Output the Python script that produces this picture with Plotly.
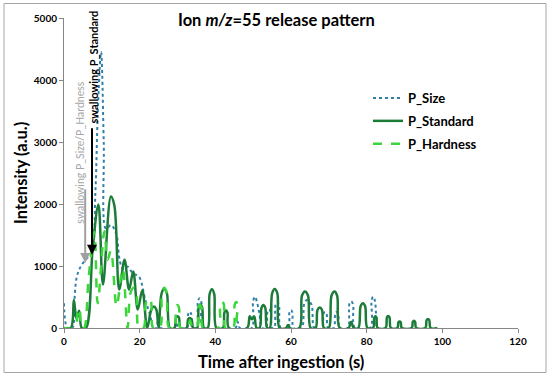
import plotly.graph_objects as go

# ---------------- data ----------------
t_size = [0, 0.9, 2.2, 2.7, 3.4, 4.5, 6.0, 7.3, 8.3, 9.0, 9.8, 10.5, 11.1, 12.4, 13.8, 14.7,
          15.6, 16.8, 18.2, 19.8, 21.5, 22.8, 23.6, 24.4, 24.9, 25.6, 29.5, 30.2, 31.0,
          32.5, 32.85, 33.2, 33.6, 34.0, 35.0, 35.4, 35.8, 36.3, 36.8, 45.3, 45.9, 46.5,
          49.6, 50.0, 50.5, 51.0, 51.6, 52.4, 53.4, 53.8, 54.2, 54.6, 55.0, 55.6, 55.9,
          56.3, 56.8, 57.3, 59.3, 59.6, 60.0, 60.35, 60.7, 62.8, 63.5, 64.2, 65.4, 66.2,
          68.2, 68.6, 69.0, 69.4, 69.8, 71.3, 71.7, 72.1, 72.5, 72.9, 75.0, 75.4, 75.9,
          76.4, 76.9, 80.9, 81.3, 81.7, 82.15, 82.6]
v_size = [400, 0, 0, 400, 830, 1000, 1120, 1200, 2200, 3600, 4450, 3000, 1600, 1660, 1520, 1100,
          950, 990, 880, 830, 450, 200, 0, 0, 180, 0, 0, 100, 0,
          0, 230, 265, 230, 0, 0, 420, 480, 420, 0, 0, 100, 0,
          0, 440, 505, 420, 250, 0, 0, 265, 300, 265, 0, 0, 370,
          420, 370, 0, 0, 255, 290, 255, 0, 0, 390, 450, 380, 0,
          0, 230, 260, 230, 0, 0, 230, 260, 230, 0, 0, 380, 430,
          380, 0, 0, 445, 505, 445, 0]

t_standard = [0, 1.8, 2.6, 3.3, 4.0, 4.7, 5.8, 7.6, 9.1, 10.3, 12.4, 13.3, 14.6, 16.0, 17.2,
              18.3, 19.5, 20.7, 22.0, 23.1, 23.8, 24.4, 25.0, 25.8, 26.5, 27.2, 28.0, 29.2,
              29.6, 30.0, 30.4, 30.8, 32.4, 32.8, 33.2, 33.7, 34.2, 35.2, 35.6, 36.0, 36.5,
              37.0, 38.0, 38.5, 39.1, 39.7, 40.3, 42.0, 42.4, 42.8, 43.2, 43.6, 48.4, 49.1,
              49.7, 50.3, 50.9, 51.7, 52.2, 52.7, 53.2, 53.7, 54.4, 55.0, 55.7, 56.4, 57.0,
              58.7, 59.2, 59.7, 62.2, 62.9, 63.7, 64.5, 65.2, 66.5, 67.0, 67.6, 68.2, 68.7,
              70.0, 70.7, 71.5, 72.2, 72.9, 75.2, 75.9, 76.6, 77.8, 78.4, 79.0, 79.6, 80.2,
              81.7, 82.0, 82.3, 82.6, 82.9, 85.0, 85.35, 85.7, 86.05, 86.4, 88.1, 88.4, 88.7,
              89.0, 89.3, 91.9, 92.2, 92.5, 92.8, 93.1, 95.5, 95.85, 96.2, 96.55, 96.9, 98.7]
v_standard = [0, 0, 450, 150, 280, 0, 0, 1300, 1990, 700, 2120, 1980, 620, 1100, 620,
              910, 300, 610, 0, 300, 345, 300, 0, 560, 635, 560, 0, 0,
              165, 190, 165, 0, 0, 140, 160, 140, 0, 0, 335, 380, 335,
              0, 0, 550, 625, 550, 0, 0, 250, 285, 250, 0, 0, 190,
              140, 185, 0, 0, 325, 370, 325, 0, 0, 555, 630, 555, 0,
              0, 50, 0, 0, 520, 590, 520, 0, 0, 290, 330, 290, 0,
              0, 520, 590, 520, 0, 0, 100, 0, 0, 350, 400, 350, 0,
              0, 165, 190, 165, 0, 0, 170, 195, 170, 0, 0, 92, 105,
              92, 0, 0, 100, 115, 100, 0, 0, 128, 145, 128, 0, 0]

t_hardness = [0, 3.0, 3.5, 4.1, 4.7, 5.3, 6.5, 8.0, 8.9, 10.7, 11.5, 12.4, 13.9, 15.5, 16.8,
              17.6, 18.4, 19.1, 19.8, 21.0, 21.7, 22.4, 23.0, 23.6, 25.3, 25.9, 26.5, 27.1,
              27.8, 29.2, 29.6, 30.0, 30.4, 30.8, 32.6, 33.3, 34.0, 35.1, 35.5, 35.9, 36.35,
              36.8, 40.8, 41.3, 41.8, 42.25, 42.7, 44.7, 45.1, 45.5, 45.95, 46.4, 98.7]
v_hardness = [0, 0, 200, 320, 0, 0, 800, 1550, 400, 1560, 1100, 1250, 350, 960, 0,
              570, 650, 570, 0, 0, 420, 480, 420, 0, 0, 570, 650, 570,
              0, 0, 325, 370, 325, 0, 0, 120, 0, 0, 325, 370, 325,
              0, 0, 380, 430, 380, 0, 0, 370, 420, 370, 0, 0]

x_ticks = [0, 20, 40, 60, 80, 100, 120]
y_ticks = [0, 1000, 2000, 3000, 4000, 5000]

FONT = "Lato"

fig = go.Figure()
fig.add_trace(go.Scatter(x=t_size, y=v_size, name="P_Size", mode="lines", legendgroup="a",
                         line=dict(color="#3180A8", width=2, dash="dot", shape="spline", smoothing=1)))
fig.add_trace(go.Scatter(x=t_standard, y=v_standard, name="P_Standard", mode="lines", legendgroup="b",
                         line=dict(color="#1C7B39", width=2.5, shape="spline", smoothing=1)))
fig.add_trace(go.Scatter(x=t_hardness, y=v_hardness, name="P_Hardness", mode="lines", legendgroup="c",
                         line=dict(color="#3AD63A", width=2.5, dash="dash", shape="spline", smoothing=1)))

axis_common = dict(showgrid=False, zeroline=False, showline=True, linecolor="#868686",
                   linewidth=1, ticks="outside", ticklen=4, tickcolor="#868686",
                   tickfont=dict(family=FONT, size=10, color="black", weight="bold"))

fig.update_xaxes(range=[0, 120], tickvals=x_ticks, **axis_common)
fig.update_yaxes(range=[0, 5000], tickvals=y_ticks, **axis_common)

# arrows and rotated labels
fig.add_annotation(x=7.4, y=1180, ax=0, ay=-128, axref="pixel", ayref="pixel",
                   text="", showarrow=True, arrowhead=2, arrowsize=1, arrowwidth=2,
                   arrowcolor="black")
fig.add_annotation(x=5.6, y=1050, ax=0, ay=-75, axref="pixel", ayref="pixel",
                   text="", showarrow=True, arrowhead=2, arrowsize=1, arrowwidth=2,
                   arrowcolor="#A0A0A0")
fig.add_annotation(x=7.8, y=4210, text="swallowing P_Standard", showarrow=False,
                   textangle=-90, xanchor="center", yanchor="middle",
                   font=dict(family=FONT, size=11, color="black", weight="bold"))
fig.add_annotation(x=4.0, y=2830, text="swallowing P_Size/P_Hardness", showarrow=False,
                   textangle=-90, xanchor="center", yanchor="middle",
                   font=dict(family=FONT, size=10.5, color="#A6A6A6"))

# titles
fig.add_annotation(xref="paper", yref="paper", x=(276 - 64) / 454, y=(328 - 20) / 310,
                   text="Ion <i>m/z</i>=55 release pattern", showarrow=False,
                   xanchor="center", yanchor="middle",
                   font=dict(family=FONT, size=16.5, color="black", weight="bold"))
fig.add_annotation(xref="paper", yref="paper", x=(281 - 64) / 454, y=(328 - 362) / 310,
                   text="Time after ingestion (s)", showarrow=False,
                   xanchor="center", yanchor="middle",
                   font=dict(family=FONT, size=16.5, color="black", weight="bold"))
fig.add_annotation(xref="paper", yref="paper", x=(21 - 64) / 454, y=0.5,
                   text="Intensity (a.u.)", showarrow=False, textangle=-90,
                   xanchor="center", yanchor="middle",
                   font=dict(family=FONT, size=16.5, color="black", weight="bold"))

# chart-area border
fig.add_shape(type="rect", xref="paper", yref="paper",
              x0=(4 - 64) / 454, x1=(546 - 64) / 454,
              y0=(328 - 372.5) / 310, y1=(328 - 3.5) / 310,
              line=dict(color="#A6A6A6", width=1), layer="below")

fig.update_layout(
    width=550, height=381,
    margin=dict(l=64, r=32, t=18, b=53),
    paper_bgcolor="white", plot_bgcolor="white",
    showlegend=True,
    legend=dict(x=(368 - 64) / 454, y=(328 - 83) / 310, xanchor="left", yanchor="top",
                bgcolor="rgba(0,0,0,0)", itemwidth=30, tracegroupgap=3,
                font=dict(family=FONT, size=13, color="black", weight="bold")),
)

fig.write_html("out.html", config={"displayModeBar": False},
               post_script="document.body.style.margin='0';")
